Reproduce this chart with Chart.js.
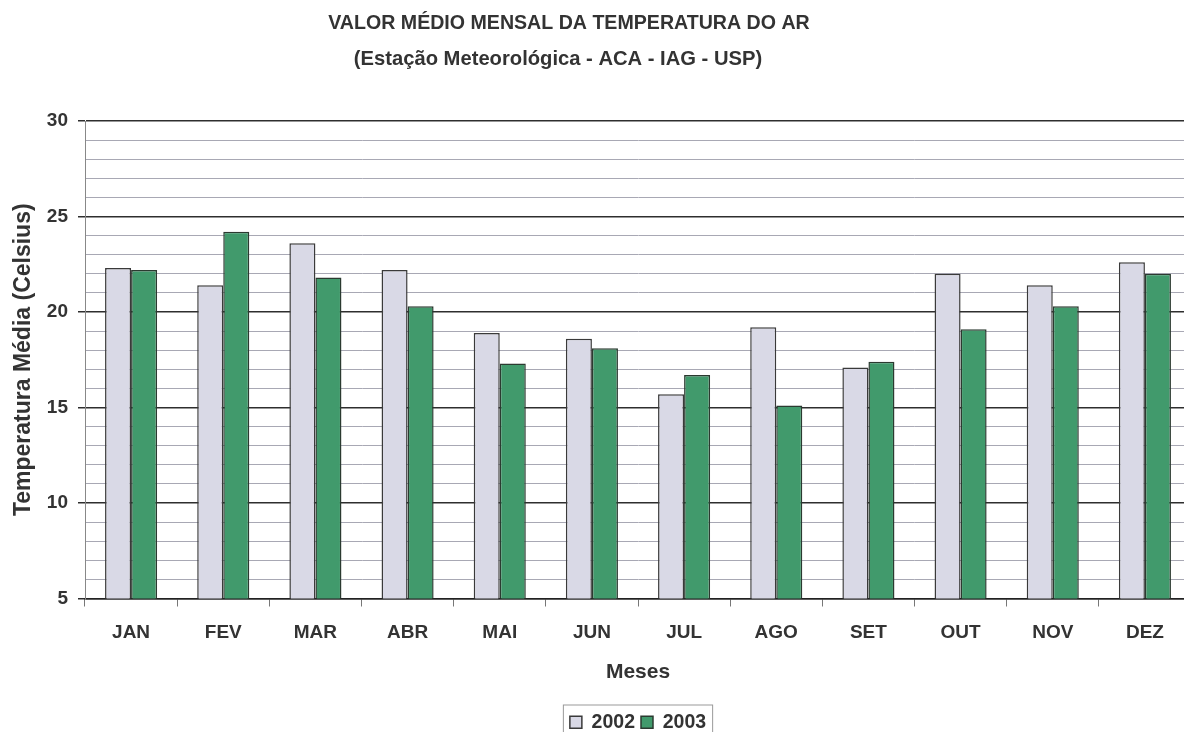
<!DOCTYPE html>
<html>
<head>
<meta charset="utf-8">
<script src="https://cdn.jsdelivr.net/npm/chart.js@4/dist/chart.umd.min.js"></script>
<style>
  html, body { margin: 0; padding: 0; background: #fff; overflow: hidden; }
  #wrap { width: 1192px; height: 732px; }
</style>
</head>
<body>
<div id="wrap"><canvas id="tempChart"></canvas></div>
<script>
const months = ['JAN', 'FEV', 'MAR', 'ABR', 'MAI', 'JUN', 'JUL', 'AGO', 'SET', 'OUT', 'NOV', 'DEZ'];
const temp2002 = [22.3, 21.4, 23.6, 22.2, 18.9, 18.6, 15.7, 19.2, 17.1, 22.0, 21.4, 22.6];
const temp2003 = [22.2, 24.2, 21.8, 20.3, 17.3, 18.1, 16.7, 15.1, 17.4, 19.1, 20.3, 22.0];
const yLabels = [5, 10, 15, 20, 25, 30];
const titleLines = ['VALOR MÉDIO MENSAL DA TEMPERATURA DO AR', '(Estação Meteorológica - ACA - IAG - USP)'];

const FONT = '"Liberation Sans", Arial, sans-serif';
const INK = '#333';

// the original's heading sits left of the page centre, so draw it by hand
const heading = {
    id: 'heading',
    afterDraw(chart) {
        const ctx = chart.ctx;
        ctx.save();
        ctx.fillStyle = INK;
        ctx.textAlign = 'center';
        ctx.textBaseline = 'middle';
        ctx.font = 'bold 19.6px ' + FONT;
        ctx.fillText(titleLines[0], 569, 24);
        ctx.font = 'bold 20.2px ' + FONT;
        ctx.fillText(titleLines[1], 558, 59);
        ctx.restore();
    }
};

// box round the legend, like the spreadsheet original
const legendFrame = {
    id: 'legendFrame',
    afterDraw(chart) {
        const boxes = chart.legend?.legendHitBoxes;
        if (!boxes || !boxes.length) return;
        const first = boxes[0], last = boxes[boxes.length - 1];
        const ctx = chart.ctx;
        ctx.save();
        ctx.strokeStyle = '#999';
        ctx.lineWidth = 1;
        ctx.strokeRect(first.left - 6.5, first.top - 7.5, last.left + last.width - first.left + 13, first.height + 20);
        ctx.restore();
    }
};

new Chart(document.getElementById('tempChart'), {
    type: 'bar',
    data: {
        labels: months,
        datasets: [{
            label: '2002',
            data: temp2002,
            backgroundColor: '#d9d9e6',
            borderColor: '#3a3a3a',
            borderWidth: 1.5
        }, {
            label: '2003',
            data: temp2003,
            backgroundColor: '#419a6c',
            borderColor: '#2b3a30',
            borderWidth: 1.5
        }]
    },
    options: {
        responsive: true,
        maintainAspectRatio: false,
        animation: false,
        layout: { padding: { left: 0, right: 1, top: 121, bottom: -10 } },
        datasets: { bar: { categoryPercentage: 0.565, barPercentage: 1.0 } },
        plugins: {
            legend: {
                position: 'bottom',
                fullSize: false,
                labels: {
                    color: INK,
                    font: { family: FONT, size: 19.5, weight: 'bold' },
                    boxWidth: 12,
                    boxHeight: 12,
                    padding: 6
                }
            },
            tooltip: { enabled: false }
        },
        scales: {
            x: {
                grid: {
                    drawOnChartArea: false,
                    drawTicks: true,
                    tickLength: 8,
                    tickColor: '#777'
                },
                border: { color: '#222', width: 1.5 },
                ticks: {
                    color: INK,
                    padding: 15,
                    font: { family: FONT, size: 19, weight: 'bold' }
                },
                title: {
                    display: true,
                    text: 'Meses',
                    color: INK,
                    font: { family: FONT, size: 21, weight: 'bold' },
                    padding: { top: 0, bottom: 22 }
                }
            },
            y: {
                min: 5,
                max: 30,
                afterFit(scale) { scale.width = 85; },
                grid: {
                    color: ctx => ctx.tick && ctx.tick.value % 5 === 0 ? '#2e2e2e' : '#a8a8b4',
                    lineWidth: ctx => ctx.tick && ctx.tick.value % 5 === 0 ? 1.5 : 1,
                    tickColor: ctx => ctx.tick && ctx.tick.value % 5 === 0 ? '#2e2e2e' : 'rgba(0,0,0,0)',
                    tickLength: 7
                },
                border: { color: '#888', width: 1 },
                ticks: {
                    stepSize: 1,
                    autoSkip: false,
                    color: INK,
                    padding: 10,
                    font: { family: FONT, size: 19, weight: 'bold' },
                    callback: v => yLabels.includes(v) ? v : ''
                },
                title: {
                    display: true,
                    text: 'Temperatura Média (Celsius)',
                    color: INK,
                    font: { family: FONT, size: 23, weight: 'bold' },
                    padding: { top: 10, bottom: 0 }
                }
            }
        }
    },
    plugins: [heading, legendFrame]
});
</script>
</body>
</html>
